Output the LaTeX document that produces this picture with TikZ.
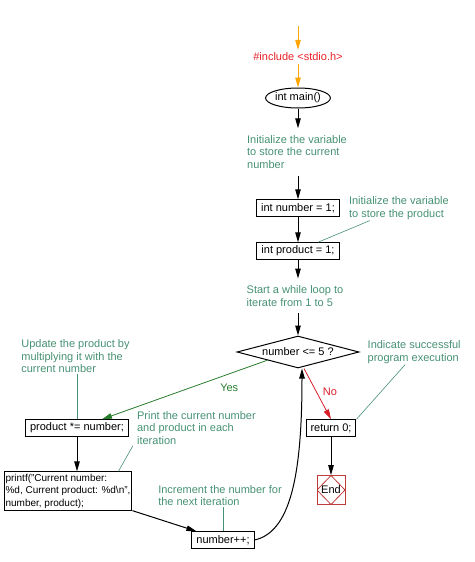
\documentclass[tikz,border=0pt]{standalone}
\usepackage{fontspec}
\setmainfont{Liberation Sans}
\usetikzlibrary{arrows.meta}
\usetikzlibrary{shapes.geometric, positioning}

\definecolor{incred}{RGB}{232,32,40}
\definecolor{entryorange}{RGB}{255,165,0}
\definecolor{notegreen}{RGB}{70,145,115}
\definecolor{yesgreen}{RGB}{40,125,45}
\definecolor{nored}{RGB}{215,30,40}
\definecolor{endred}{RGB}{190,60,60}
\newcommand{\flowfont}{\fontsize{11}{12.5}\selectfont}

\begin{document}
\begin{tikzpicture}[x=1pt, y=1pt, node distance=40pt]
    % Define styles
    \tikzstyle{preproc} = [text=incred, inner sep=3pt, font=\flowfont]
    \tikzstyle{func} = [ellipse, draw, line width=1pt, minimum width=60pt, minimum height=20pt, inner sep=0pt, font=\flowfont]
    \tikzstyle{stmt} = [rectangle, draw, line width=1pt, minimum height=16.5pt, inner xsep=4.5pt, inner ysep=2pt, font=\flowfont]
    \tikzstyle{decision} = [diamond, draw, line width=1pt, aspect=3.8, minimum width=122pt, minimum height=32pt, inner sep=0pt, font=\flowfont]
    \tikzstyle{flownote} = [text=notegreen, align=left, inner xsep=0pt, inner ysep=7pt, font=\flowfont]
    \tikzstyle{remark} = [text=notegreen, align=left, inner sep=1pt, font=\flowfont]
    \tikzstyle{endbox} = [rectangle, draw=endred, line width=0.8pt, minimum width=28pt, minimum height=29pt, inner sep=0pt, font=\flowfont,
        path picture={\draw[endred, line width=0.8pt] (path picture bounding box.north) -- (path picture bounding box.east) -- (path picture bounding box.south) -- (path picture bounding box.west) -- cycle;}]
    \tikzstyle{flow} = [-{Triangle[length=10pt, width=5.5pt]}, line width=1pt]
    \tikzstyle{entry} = [flow, draw=entryorange]
    \tikzstyle{yesbranch} = [flow, line width=0.8pt, draw=yesgreen]
    \tikzstyle{nobranch} = [flow, line width=0.8pt, draw=nored]
    \tikzstyle{noteline} = [draw=notegreen, line width=0.6pt]

    \useasboundingbox (0,0) rectangle (474,-562);

    % Program entry
    \coordinate (top) at (298,-26);
    \node[preproc, below of=top, yshift=9pt] (include) {\#include <stdio.h>};
    \node[func, below of=include, yshift=-1pt] (main) {int main()};

    % Variables
    \node[flownote, below of=main, yshift=-14pt, xshift=-1pt] (initnum) {Initialize the variable\\to store the current\\number};
    \node[stmt, below of=initnum, yshift=-16pt, xshift=1pt] (number) {int number = 1;};
    \node[stmt, below of=number, yshift=-3pt] (product) {int product = 1;};
    \node[remark, right=8pt of number] (prodnote) {Initialize the variable\\to store the product};

    % Loop test
    \node[flownote, below of=product, yshift=-5pt, xshift=-3pt] (loop) {Start a while loop to\\iterate from 1 to 5};
    \node[decision, below of=loop, yshift=-16pt, xshift=3pt] (cond) {number <= 5 ?};
    \node[remark, right=7pt of cond] (exitnote) {Indicate successful\\program execution};

    % Exit branch
    \node[stmt, below of=cond, xshift=33pt, yshift=-36pt] (ret) {return 0;};
    \node[endbox, below of=ret, yshift=-22pt] (finish) {End};

    % Loop body
    \node[stmt, below of=cond, xshift=-221pt, yshift=-36pt] (update) {product *= number;};
    \node[remark, above=45pt of update, xshift=-1.5pt] (updnote) {Update the product by\\multiplying it with the\\current number};
    \node[remark, right=7pt of update] (printnote) {Print the current number\\and product in each\\iteration};
    \node[stmt, align=left, inner xsep=1.5pt, font=\fontsize{10}{12.5}\selectfont, below of=update, xshift=-9pt, yshift=-23pt] (printf) {printf("Current number:\\\%d, Current product: \%d\textbackslash n",\\number, product);};
    \node[stmt, below of=printf, xshift=155pt, yshift=-9pt] (incr) {number++;};
    \node[remark, above=24pt of incr, xshift=-3pt] (incrnote) {Increment the number for\\the next iteration};

    % Flow
    \draw[entry] (top) -- (include);
    \draw[entry] (include) -- (main);
    \draw[flow] (main) -- (main.south |- initnum.north);
    \draw[flow] (number.north |- initnum.south) -- (number);
    \draw[flow] (number) -- (product);
    \draw[flow] (product) -- (product.south |- loop.north);
    \draw[flow] (cond.north |- loop.south) -- (cond);
    \draw[yesbranch] (cond.south west) -- node[pos=0.23, below=6pt, text=yesgreen, font=\flowfont] {Yes} ([xshift=25pt]update.north);
    \draw[nobranch] ([xshift=6pt]cond.south) -- node[pos=0.45, right=3pt, text=nored, font=\flowfont] {No} (ret.north);
    \draw[flow] (ret) -- (finish);
    \draw[flow] (update) -- (update.south |- printf.north);
    \draw[flow] (printf.south east) -- ([xshift=5pt]incr.north west);
    \draw[flow] (incr.east) .. controls +(35pt,8pt) and +(0pt,-110pt) .. ([xshift=4pt]cond.south);

    % Comment lines
    \draw[noteline] ([xshift=-29pt]prodnote.south) -- ([xshift=20pt]product.north);
    \draw[noteline] ([xshift=-9pt]exitnote.south) -- (ret.north east);
    \draw[noteline] (updnote.south -| update.north) -- (update.north);
    \draw[noteline] ([xshift=-3pt]printnote.south west) -- ([xshift=-14pt]printf.north east);
    \draw[noteline] (incrnote.south -| incr.north) -- (incr.north);

\end{tikzpicture}
\end{document}
